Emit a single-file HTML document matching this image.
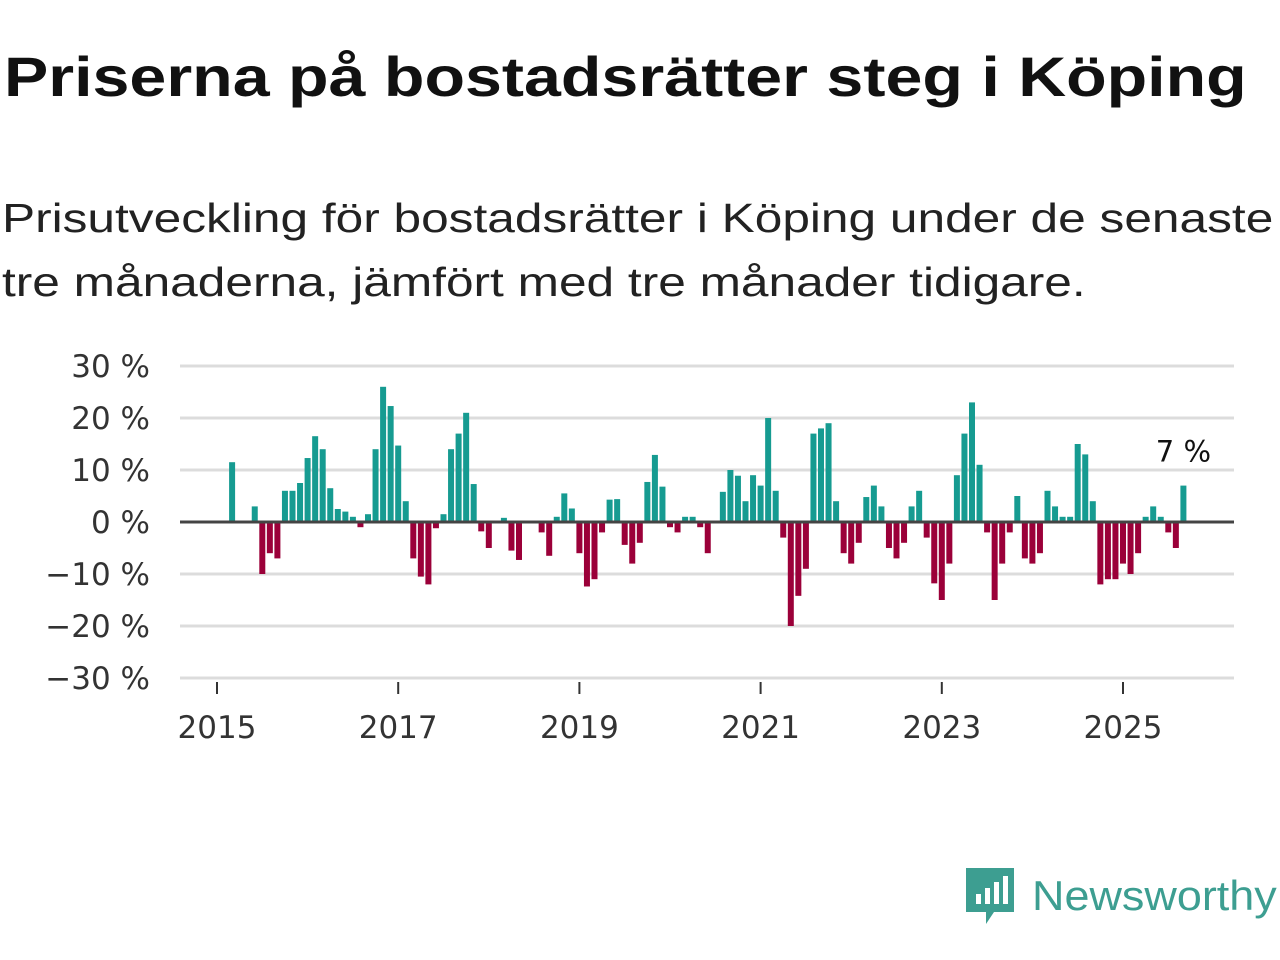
<!DOCTYPE html>
<html><head><meta charset="utf-8"><style>
body{margin:0;width:1280px;height:960px;background:#fff;font-family:"Liberation Sans",sans-serif;overflow:hidden;position:relative}
h1{position:absolute;left:4px;top:44px;margin:0;font-size:56px;font-weight:bold;color:#111;transform:scaleX(1.185);transform-origin:0 0;white-space:nowrap}
.sub{position:absolute;left:2px;top:186px;font-size:41px;line-height:64px;color:#222;transform:scaleX(1.21);transform-origin:0 0;white-space:nowrap}
svg{position:absolute;left:0;top:0}
</style></head><body>
<h1>Priserna på bostadsrätter steg i Köping</h1>
<div class="sub">Prisutveckling för bostadsrätter i Köping under de senaste<br>tre månaderna, jämfört med tre månader tidigare.</div>
<svg id="chart" width="1280" height="960"></svg>
<div style="position:absolute;left:964px;top:866px;display:flex;align-items:center">
<svg width="52" height="60" style="position:static"><path d="M2 2h48v44H30l-8 12v-12H2z" fill="#3d9e91"/><rect x="12" y="28" width="5" height="10" fill="#fff"/><rect x="21" y="22" width="5" height="16" fill="#fff"/><rect x="30" y="16" width="5" height="22" fill="#fff"/><rect x="39" y="10" width="5" height="28" fill="#fff"/></svg>
<span style="font-size:42px;color:#3d9e91;margin-left:16px;font-family:'Liberation Sans',sans-serif;display:inline-block;transform:scaleX(1.07);transform-origin:0 50%">Newsworthy</span></div>
<script>
const startYear = 2015;
const values = [null,null,11.5,0,0,3,-10,-6,-7,6,6,7.5,
12.3,16.5,14,6.5,2.5,2,1,-1,1.5,14,26,22.3,
14.7,4,-7,-10.5,-12,-1.2,1.5,14,17,21,7.3,-1.8,
-5,0,0.8,-5.5,-7.3,0,0,-2,-6.5,1,5.5,2.6,
-6,-12.4,-11,-2,4.3,4.4,-4.4,-8,-4,7.7,12.9,6.8,
-1,-2,1,1,-1,-6,0,5.8,10,8.9,4,9,
7,20,6,-3,-20,-14.2,-9,17,18,19,4,-6,
-8,-4,4.8,7,3,-5,-7,-4,3,6,-3,-11.8,
-15,-8,9,17,23,11,-2,-15,-8,-2,5,-7,
-8,-6,6,3,1,1,15,13,4,-12,-11,-11,
-8,-10,-6,1,3,1,-2,-5,7];
const yTicks = [30,20,10,0,-10,-20,-30];
const xTicks = [2015,2017,2019,2021,2023,2025];
const NS="http://www.w3.org/2000/svg";
const svg=document.getElementById('chart');
const x0=217, pxYear=90.6, y0=522, pxPct=5.2, L=180, R=1234;
const xs=i=>x0+i*pxYear/12;
const xy=yr=>x0+(yr-startYear)*pxYear;
const ys=v=>y0-v*pxPct;
function el(t,a){const e=document.createElementNS(NS,t);for(const k in a)e.setAttribute(k,a[k]);svg.appendChild(e);return e;}
yTicks.forEach(t=>{
  if(t!==0){const g=el('line',{x1:L,x2:R,y1:ys(t),y2:ys(t),stroke:'#dcdcdc','stroke-width':3});
  
  }
  const tx=el('text',{x:150,y:ys(t)+11,'text-anchor':'end','font-size':31,fill:'#333','font-family':'DejaVu Sans, sans-serif'});
  tx.textContent=(t<0?'\u2212'+(-t):t)+' %';
  
  
});
xTicks.forEach(yr=>{
  const x=xy(yr);
  const l=el('line',{x1:x,x2:x,y1:682,y2:694,stroke:'#333','stroke-width':2});
  
  
  const tx=el('text',{x:x,y:738,'text-anchor':'middle','font-size':31,fill:'#333','font-family':'DejaVu Sans, sans-serif'});
  tx.textContent=yr;
  
  
});
values.forEach((v,i)=>{
  if(v===null||v===0)return;
  const y=Math.min(ys(v),y0), h=Math.abs(ys(v)-y0);
  const b=el('rect',{x:xs(i)-3,y:y,width:6,height:h,fill:v>0?'#169b91':'#9b0039'});
  
  
});
const ax=el('line',{x1:L,x2:R,y1:y0,y2:y0,stroke:'#444','stroke-width':3});


const last=values.length-1;
const lab=el('text',{x:xs(last),y:ys(values[last])-24,'text-anchor':'middle','font-size':29,fill:'#111','font-family':'DejaVu Sans, sans-serif',stroke:'#fff','stroke-width':6,'paint-order':'stroke'});
lab.textContent=Math.round(values[last])+' %';


</script>
</body></html>
